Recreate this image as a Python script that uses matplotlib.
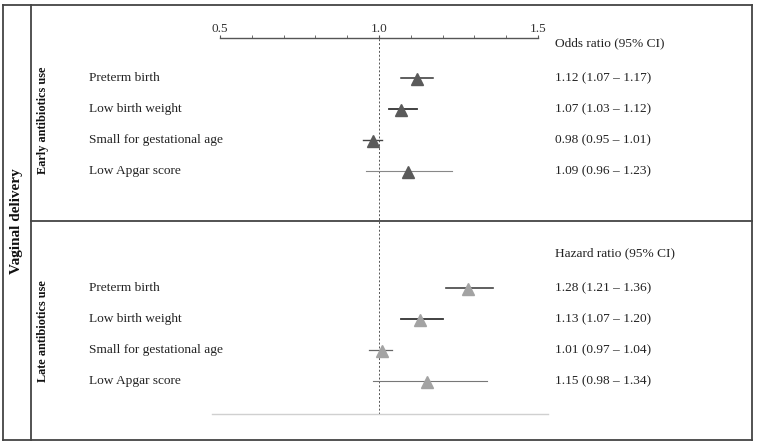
import matplotlib.pyplot as plt
from matplotlib.lines import Line2D

plt.rcParams['font.family'] = ['Liberation Serif', 'DejaVu Serif']

outcomes = ["Preterm birth", "Low birth weight", "Small for gestational age", "Low Apgar score"]

early_est = [1.12, 1.07, 0.98, 1.09]
early_lo = [1.07, 1.03, 0.95, 0.96]
early_hi = [1.17, 1.12, 1.01, 1.23]

late_est = [1.28, 1.13, 1.01, 1.15]
late_lo = [1.21, 1.07, 0.97, 0.98]
late_hi = [1.36, 1.20, 1.04, 1.34]

ticks = [0.5, 1.0, 1.5]
minor_ticks = [0.6, 0.7, 0.8, 0.9, 1.1, 1.2, 1.3, 1.4]

W, H = 757, 446


def fx(px):
	return px / W


def fy(py):
	return 1 - py / H


fig = plt.figure(figsize=(W / 100, H / 100), dpi=100)

# forest plot area, x in ratio units, y in pixel rows
ax = fig.add_axes([fx(220), fy(414), fx(538) - fx(220), fy(38) - fy(414)])
ax.set_xlim(0.5, 1.5)
ax.set_ylim(414, 38)
for s in ['left', 'right', 'bottom']:
	ax.spines[s].set_visible(False)
ax.spines['top'].set_color('#555555')
ax.spines['top'].set_linewidth(1.0)
ax.xaxis.tick_top()
ax.set_xticks(ticks)
ax.set_xticklabels([f"{t:.1f}" for t in ticks])
ax.set_xticks(minor_ticks, minor=True)
ax.tick_params(axis='x', which='both', direction='out', length=2.5, color='#555555',
			   labelsize=9.5, pad=0, labelcolor='#333333')
ax.set_yticks([])

top_rows = [78, 109, 140, 171]
bot_rows = [288, 319, 350, 381]

ax.axvline(1.0, color='#555555', lw=0.7, ls=(0, (2, 2)))
ax.plot([0.475, 1.53], [414, 414], color='#d0d0d0', lw=1.0, clip_on=False)

early_ci_col = ['#333333', '#333333', '#444444', '#888888']
early_ci_lw = [1.1, 1.3, 1.0, 0.8]
late_ci_col = ['#444444', '#333333', '#666666', '#777777']
late_ci_lw = [1.2, 1.3, 0.9, 0.8]

for i in range(4):
	ax.plot([early_lo[i], early_hi[i]], [top_rows[i], top_rows[i]], color=early_ci_col[i], lw=early_ci_lw[i])
	ax.plot(early_est[i], top_rows[i] + 1, marker='^', ms=9, color='#5a5a5a', mec='#5a5a5a')
	ax.plot([late_lo[i], late_hi[i]], [bot_rows[i], bot_rows[i]], color=late_ci_col[i], lw=late_ci_lw[i])
	ax.plot(late_est[i], bot_rows[i] + 1, marker='^', ms=9, color='#a3a3a3', mec='#a3a3a3')

# labels and values
tcol = '#222222'
fs = 9.6
for i in range(4):
	fig.text(fx(89), fy(top_rows[i]), outcomes[i], fontsize=fs, va='center', color=tcol)
	fig.text(fx(89), fy(bot_rows[i]), outcomes[i], fontsize=fs, va='center', color=tcol)
	fig.text(fx(555), fy(top_rows[i]),
			 f"{early_est[i]:.2f} ({early_lo[i]:.2f} \u2013 {early_hi[i]:.2f})",
			 fontsize=fs, va='center', color=tcol)
	fig.text(fx(555), fy(bot_rows[i]),
			 f"{late_est[i]:.2f} ({late_lo[i]:.2f} \u2013 {late_hi[i]:.2f})",
			 fontsize=fs, va='center', color=tcol)

fig.text(fx(555), fy(43), "Odds ratio (95% CI)", fontsize=fs, va='center', color=tcol)
fig.text(fx(555), fy(253), "Hazard ratio (95% CI)", fontsize=fs, va='center', color=tcol)

fig.text(fx(43), fy(120), "Early antibiotics use", fontsize=8.8, fontweight='bold',
		 rotation=90, ha='center', va='center', color='#111111')
fig.text(fx(43), fy(331), "Late antibiotics use", fontsize=8.8, fontweight='bold',
		 rotation=90, ha='center', va='center', color='#111111')
fig.text(fx(17), fy(221), "Vaginal delivery", fontsize=11, fontweight='bold',
		 rotation=90, ha='center', va='center', color='#111111')

# frame lines
bc = '#444444'
frame = [
	([3, 752], [5, 5]),
	([3, 752], [440, 440]),
	([3, 3], [5, 440]),
	([752, 752], [5, 440]),
	([31, 31], [5, 440]),
	([31, 752], [221, 221]),
]
for xs, ys in frame:
	fig.add_artist(Line2D([fx(x) for x in xs], [fy(y) for y in ys], color=bc, lw=1.3))

fig.savefig('out.png', dpi=100)
